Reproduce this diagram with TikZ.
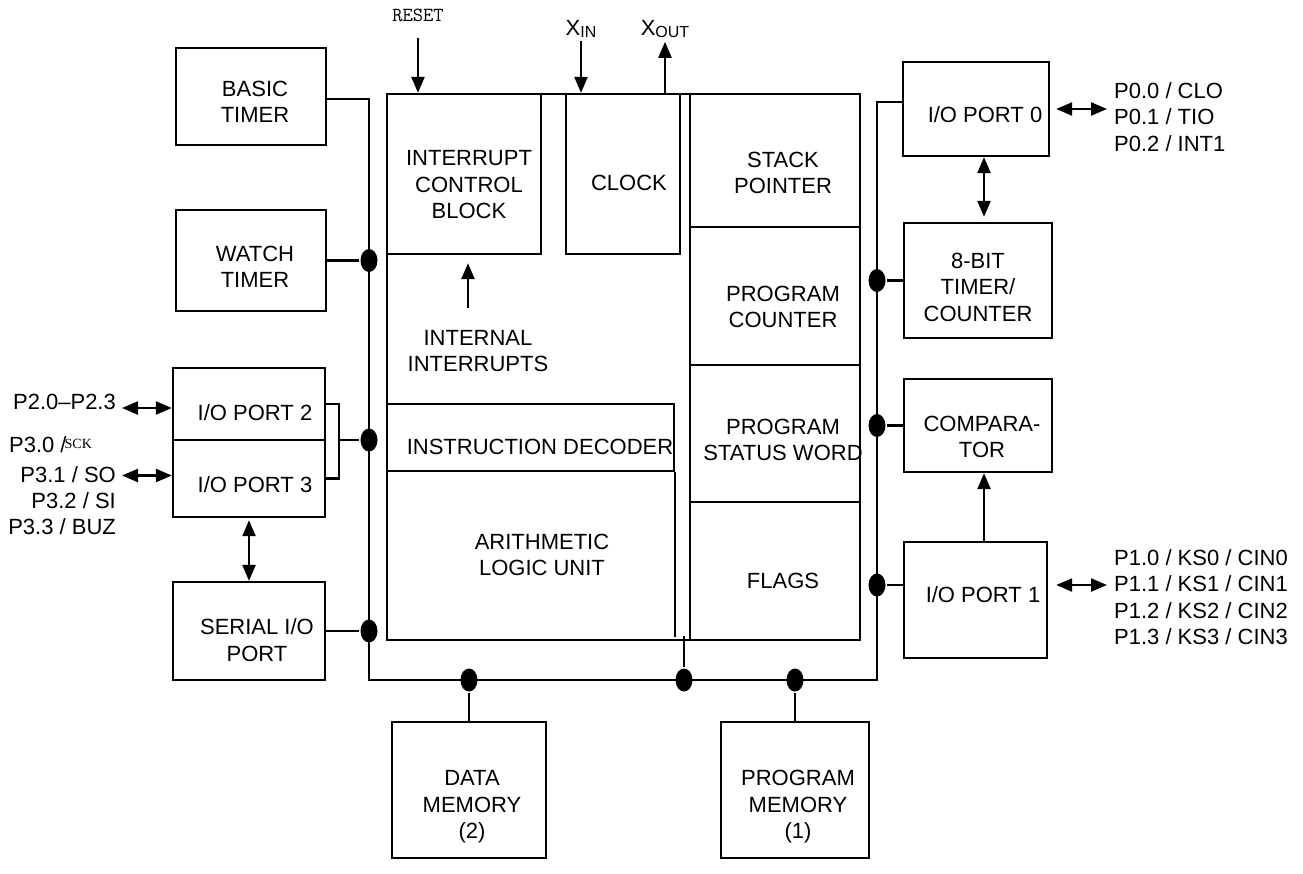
\documentclass[tikz,border=0pt]{standalone}
\usepackage{fontspec}
\setmainfont{Liberation Sans}
\newfontfamily\sckfont{Liberation Serif}
\usetikzlibrary{arrows.meta,shapes.geometric}

\tikzset{
  blk/.style={draw, inner sep=0pt},
  tx/.style={inner sep=0pt, align=center, font=\fontsize{22}{26.5}\selectfont},
  dot/.style={ellipse, fill, inner sep=0pt, minimum width=17pt, minimum height=23pt},
  sgl/.style={-{Triangle[length=16pt,width=13pt]}},
  dbl/.style={{Triangle[length=16pt,width=13pt]}-{Triangle[length=16pt,width=13pt]}},
}

\begin{document}
\begin{tikzpicture}[x=1pt,y=-1pt,line width=2.3pt]
\useasboundingbox (0,0) rectangle (1303,873);

% left column
\node[blk,minimum width=150pt,minimum height=97pt] (bt) at (251,96.5) {};
\node[tx] (btT) at (255,102) {BASIC\\TIMER};
\node[blk,minimum width=150pt,minimum height=101pt] (wt) at (251,260.5) {};
\node[tx] (wtT) at (255,267) {WATCH\\TIMER};
\node[blk,minimum width=152pt,minimum height=72pt] (p2) at (249,404) {};
\node[tx] (p2T) at (255,413) {I/O PORT 2};
\node[blk,minimum width=152pt,minimum height=77pt] (p3) at (249,478.5) {};
\node[tx] (p3T) at (255,485) {I/O PORT 3};
\node[blk,minimum width=152pt,minimum height=98pt] (sio) at (249,631) {};
\node[tx] (sioT) at (257,640) {SERIAL I/O\\PORT};

% pin labels, left
\node[tx,anchor=east] (p20T) at (117,402) {P2.0–P2.3};
\node[tx,anchor=west] (p30T) at (8,445) {P3.0 /\kern-2pt\raisebox{4pt}{\sckfont\fontsize{14}{14}\selectfont SCK}};
\node[tx,anchor=east] (p31T) at (117,475) {P3.1 / SO};
\node[tx,anchor=east] (p32T) at (117,501) {P3.2 / SI};
\node[tx,anchor=east] (p33T) at (117,527) {P3.3 / BUZ};

% core
\node[blk,minimum width=473pt,minimum height=546pt] (cpu) at (623.5,367) {};
\node[blk,minimum width=154pt,minimum height=160pt] (icb) at (464,174) {};
\node[tx] (icbT) at (469,185) {INTERRUPT\\CONTROL\\BLOCK};
\node[blk,minimum width=114pt,minimum height=160pt] (clk) at (623,174) {};
\node[tx] (clkT) at (629,183) {CLOCK};
\node[blk,minimum width=170pt,minimum height=133pt] (sp) at (775,160.5) {};
\node[tx] (spT) at (783,173) {STACK\\POINTER};
\node[blk,minimum width=170pt,minimum height=138pt] (pc) at (775,296) {};
\node[tx] (pcT) at (783,307) {PROGRAM\\COUNTER};
\node[blk,minimum width=170pt,minimum height=137pt] (psw) at (775,433.5) {};
\node[tx] (pswT) at (783,440) {PROGRAM\\STATUS WORD};
\node[blk,minimum width=170pt,minimum height=138pt] (flg) at (775,571) {};
\node[tx] (flgT) at (783,581) {FLAGS};
\node[blk,minimum width=287pt,minimum height=67pt] (id) at (530.5,437.5) {};
\node[tx] (idT) at (540,447) {INSTRUCTION DECODER};
\draw (id.south east) -- ++(0,165);
\node[tx] (aluT) at (542,555) {ARITHMETIC\\LOGIC UNIT};
\node[tx] (iiT) at (478,351) {INTERNAL\\INTERRUPTS};
\coordinate (iia) at (468,308);
\draw[sgl,shorten >=8pt] (iia) -- (iia |- icb.south);

% inputs on top
\node[tx,font=\ttfamily\fontsize{20}{20}\selectfont] (rsT) at (418,15) {RESET};
\draw[sgl,shorten <=15pt] (rsT.south) -- (rsT.south |- cpu.north);
\node[tx] (xinT) at (581,29) {X\raisebox{-2pt}{\fontsize{16}{16}\selectfont IN}};
\draw[sgl,shorten <=2pt] (xinT.south) -- (xinT.south |- cpu.north);
\node[tx] (xoutT) at (665,29) {X\raisebox{-2pt}{\fontsize{16}{16}\selectfont OUT}};
\draw[sgl,shorten >=3pt] (xoutT.south |- cpu.north) -- (xoutT.south);

% right column
\node[blk,minimum width=146pt,minimum height=94pt] (p0) at (976,109) {};
\node[tx] (p0T) at (985,115) {I/O PORT 0};
\node[blk,minimum width=148pt,minimum height=115pt] (tc) at (978,280.5) {};
\node[tx] (tcT) at (978,287) {8-BIT\\TIMER/\\COUNTER};
\node[blk,minimum width=148pt,minimum height=93pt] (cmp) at (978,425.5) {};
\node[tx] (cmpT) at (982,437) {COMPARA-\\TOR};
\node[blk,minimum width=143pt,minimum height=116pt] (p1) at (975.5,600) {};
\node[tx] (p1T) at (983,595) {I/O PORT 1};

% pin labels, right
\node[tx,anchor=west,align=left] (p0L) at (1113,117) {P0.0 / CLO\\P0.1 / TIO\\P0.2 / INT1};
\node[tx,anchor=west,align=left] (p1L) at (1113,597) {P1.0 / KS0 / CIN0\\P1.1 / KS1 / CIN1\\P1.2 / KS2 / CIN2\\P1.3 / KS3 / CIN3};

% memories
\node[blk,minimum width=154pt,minimum height=136pt] (dm) at (469,790) {};
\node[tx] (dmT) at (472,807) {DATA\\MEMORY\\(2)};
\node[blk,minimum width=148pt,minimum height=136pt] (pm) at (795,790) {};
\node[tx] (pmT) at (798,807) {PROGRAM\\MEMORY\\(1)};

% bus
\coordinate (bl) at (369,680);
\coordinate (br) at (877,680);
\coordinate (bta) at ([yshift=-2.5pt]bt.east);
\coordinate (p0a) at ([yshift=7pt]p0.west);
\draw (bta) -| (bl) -- (br) |- (p0a);

\node[dot] (dwt) at (wt.east -| bl) {};
\draw (wt.east) -- (dwt);
\coordinate (brk) at (339,440);
\draw (p2.east) -| (brk) |- (p3.east);
\node[dot] (dp23) at (brk -| bl) {};
\draw (brk) -- (dp23);
\node[dot] (dsio) at (sio.east -| bl) {};
\draw (sio.east) -- (dsio);

\node[dot] (ddm) at (dm.north |- bl) {};
\draw (ddm) -- (dm.north);
\coordinate (stub) at (684,636);
\node[dot] (dalu) at (stub |- bl) {};
\draw (stub) -- (dalu);
\node[dot] (dpm) at (pm.north |- bl) {};
\draw (dpm) -- (pm.north);

\node[dot] (dtc) at (tc.west -| br) {};
\draw (tc.west) -- (dtc);
\node[dot] (dcmp) at (cmp.west -| br) {};
\draw (cmp.west) -- (dcmp);
\coordinate (p1c) at ([yshift=15pt]p1.west);
\node[dot] (dp1) at (p1c -| br) {};
\draw (p1c) -- (dp1);

% pin and side arrows
\coordinate (p2a) at ([yshift=-4pt]p2.west);
\draw[dbl,shorten >=5pt] (p2a) -- (p2a -| p20T.east);
\coordinate (p3a) at ([yshift=3pt]p3.west);
\draw[dbl,shorten >=5pt] (p3a) -- (p3a -| p31T.east);
\draw[dbl,shorten <=2pt] (p3.south) -- (sio.north);
\draw[dbl,shorten <=6pt,shorten >=6pt] (p0.east) -- (p0.east -| p0L.west);
\coordinate (p1a) at ([yshift=15pt]p1.east);
\draw[dbl,shorten <=8pt,shorten >=6pt] (p1a) -- (p1a -| p1L.west);
\coordinate (tca) at ([xshift=6pt]tc.north);
\draw[dbl,shorten <=5pt] (tca) -- (tca |- p0.south);
\coordinate (p1b) at ([xshift=8.5pt]p1.north);
\draw[sgl] (p1b) -- (p1b |- cmp.south);
\end{tikzpicture}
\end{document}
